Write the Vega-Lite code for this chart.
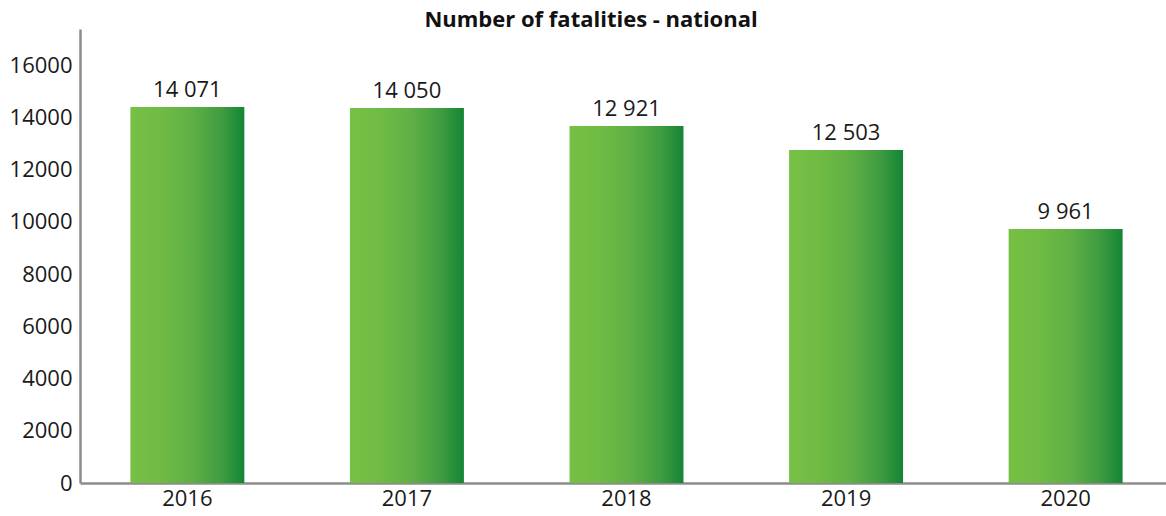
{
  "$schema": "https://vega.github.io/schema/vega-lite/v6.json",
  "width": 1093,
  "height": 454,
  "autosize": {"type": "none"},
  "padding": {"left": 80, "top": 29, "right": 0, "bottom": 33},
  "background": "white",
  "title": {
    "text": "Number of fatalities - national",
    "font": "Open Sans",
    "fontSize": 22,
    "fontWeight": "bold",
    "color": "#111111",
    "anchor": "middle",
    "frame": "bounds",
    "offset": -3
  },
  "config": {
    "view": {"stroke": null},
    "font": "Open Sans"
  },
  "data": {
    "values": [
      {"year": "2016", "bar": 14392, "label": "14 071"},
      {"year": "2017", "bar": 14354, "label": "14 050"},
      {"year": "2018", "bar": 13665, "label": "12 921"},
      {"year": "2019", "bar": 12746, "label": "12 503"},
      {"year": "2020", "bar": 9722, "label": "9 961"}
    ]
  },
  "encoding": {
    "x": {
      "field": "year",
      "type": "nominal",
      "scale": {"paddingInner": 0.481, "paddingOuter": 0.2295},
      "axis": {
        "title": null,
        "labelAngle": 0,
        "labelFont": "Open Sans",
        "labelFontSize": 22,
        "labelColor": "#1a1a1a",
        "labelPadding": 5,
        "ticks": false,
        "domainColor": "#8c8c8c",
        "domainWidth": 2.5,
        "grid": false
      }
    },
    "y": {
      "field": "bar",
      "type": "quantitative",
      "scale": {"domain": [0, 17380], "nice": false},
      "axis": {
        "title": null,
        "values": [0, 2000, 4000, 6000, 8000, 10000, 12000, 14000, 16000],
        "format": "d",
        "labelFont": "Open Sans",
        "labelFontSize": 22,
        "labelColor": "#1a1a1a",
        "labelPadding": 8,
        "ticks": false,
        "domainColor": "#8c8c8c",
        "domainWidth": 2.5,
        "grid": false
      }
    }
  },
  "layer": [
    {
      "mark": {
        "type": "bar",
        "color": {
          "gradient": "linear",
          "x1": 0, "x2": 1, "y1": 0, "y2": 0,
          "stops": [
            {"offset": 0, "color": "#76c044"},
            {"offset": 0.25, "color": "#70bc44"},
            {"offset": 0.55, "color": "#5eaf45"},
            {"offset": 0.8, "color": "#3f9c40"},
            {"offset": 1, "color": "#138536"}
          ]
        }
      }
    },
    {
      "mark": {
        "type": "text",
        "font": "Open Sans",
        "fontSize": 22,
        "color": "#1a1a1a",
        "baseline": "alphabetic",
        "dy": -10
      },
      "encoding": {"text": {"field": "label"}}
    }
  ]
}
